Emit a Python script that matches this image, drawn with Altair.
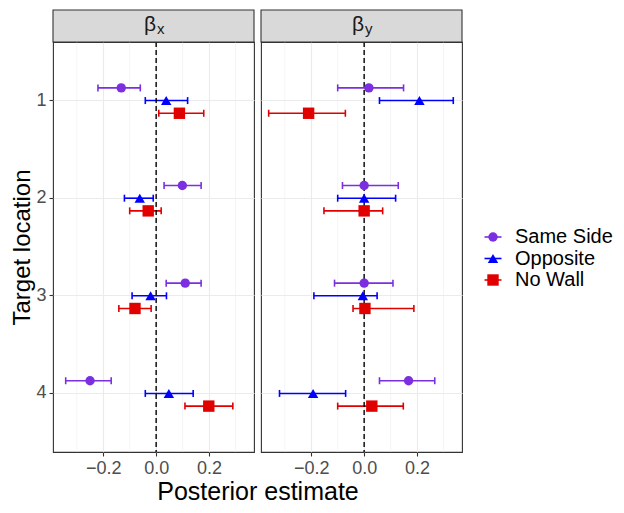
import altair as alt
import pandas as pd

locations = ["1", "2", "3", "4"]
conditions = ["Same Side", "Opposite", "No Wall"]
colors = ["#7B2FE0", "#0000FF", "#E00000"]
shapes = ["circle", "triangle-up", "square"]
panel_names = ["beta_x", "beta_y"]
panel_symbol = ["β", "β"]
panel_sub = ["x", "y"]

# beta_x estimates and intervals
bx_est = {"Same Side": [-0.132, 0.099, 0.110, -0.250],
          "Opposite": [0.038, -0.062, -0.021, 0.048],
          "No Wall": [0.088, -0.030, -0.080, 0.199]}
bx_lo = {"Same Side": [-0.220, 0.030, 0.038, -0.342],
         "Opposite": [-0.041, -0.120, -0.091, -0.041],
         "No Wall": [0.010, -0.100, -0.141, 0.109]}
bx_hi = {"Same Side": [-0.060, 0.170, 0.170, -0.170],
         "Opposite": [0.119, -0.011, 0.039, 0.140],
         "No Wall": [0.180, 0.019, -0.019, 0.290]}
# beta_y estimates and intervals
by_est = {"Same Side": [0.018, 0.000, 0.000, 0.168],
          "Opposite": [0.209, 0.000, -0.005, -0.193],
          "No Wall": [-0.210, 0.000, 0.003, 0.029]}
by_lo = {"Same Side": [-0.100, -0.082, -0.112, 0.058],
         "Opposite": [0.058, -0.100, -0.190, -0.320],
         "No Wall": [-0.361, -0.152, -0.042, -0.100]}
by_hi = {"Same Side": [0.149, 0.129, 0.109, 0.267],
         "Opposite": [0.337, 0.119, 0.049, -0.070],
         "No Wall": [-0.071, 0.070, 0.188, 0.148]}

major_breaks = [-0.2, 0.0, 0.2]
minor_breaks = [-0.3, -0.1, 0.1, 0.3]
ref_line = [0.0]
x_domain = [-0.39, 0.37]
# dodge slots: empty slots either side keep the three conditions close together
dodge_slots = ["_a", "_b"] + conditions + ["_c", "_d"]

rows = []
for p, est, lo, hi in [("beta_x", bx_est, bx_lo, bx_hi), ("beta_y", by_est, by_lo, by_hi)]:
    for c in conditions:
        for i, loc in enumerate(locations):
            rows.append(dict(panel=p, location=loc, condition=c,
                             est=est[c][i], lo=lo[c][i], hi=hi[c][i]))
df = pd.DataFrame(rows)

W, H, STRIP, GAP = 201, 410, 32, 7
GRID = "#EBEBEB"
DARK = "#333333"

xs = alt.Scale(domain=x_domain, nice=False, zero=False)
ys = alt.Scale(domain=locations, paddingInner=0, paddingOuter=0.1)
yos = alt.Scale(domain=dodge_slots, paddingInner=0, paddingOuter=0.35)
cs = alt.Scale(domain=conditions, range=colors)
ss = alt.Scale(domain=conditions, range=shapes)
sz = alt.Scale(domain=conditions, range=[88, 130, 78])


def panel(idx, first):
    name = panel_names[idx]
    d = df[df.panel == name]
    base = alt.Chart(d)

    xaxis = alt.Axis(values=major_breaks, format=".1f", grid=True, gridColor=GRID,
                     gridWidth=1.1, domain=False, tickSize=4, tickColor=DARK,
                     tickWidth=1.1, labelFontSize=18, labelColor="#4D4D4D",
                     labelPadding=3,
                     title="Posterior estimate" if first else None,
                     titleFontSize=25, titleFontWeight="normal", titleColor="#000000",
                     titlePadding=2, titleX=(2 * W + GAP) / 2)
    if first:
        yaxis = alt.Axis(title="Target location", grid=True, gridColor=GRID, gridWidth=1.1,
                         bandPosition=0.5, domain=False, tickSize=4, tickColor=DARK,
                         tickWidth=1.1, labelFontSize=18, labelColor="#4D4D4D",
                         labelPadding=3, labelAngle=0,
                         titleFontSize=24, titleFontWeight="normal", titleColor="#000000",
                         titlePadding=1)
    else:
        yaxis = alt.Axis(title=None, grid=True, gridColor=GRID, gridWidth=1.1,
                         bandPosition=0.5, domain=False, ticks=False, labels=False,
                         minExtent=0)

    X = lambda f: alt.X(f, scale=xs, axis=xaxis)
    Y = alt.Y("location:N", scale=ys, axis=yaxis)
    YO = alt.YOffset("condition:N", scale=yos)
    C = alt.Color("condition:N", scale=cs, legend=None)

    minor = alt.Chart(pd.DataFrame({"v": minor_breaks})).mark_rule(
        color=GRID, strokeWidth=0.55).encode(x=X("v:Q"))

    bars = base.mark_rule(strokeWidth=1.6).encode(
        x=X("lo:Q"), x2="hi:Q", y=Y, yOffset=YO, color=C)
    cap_lo = base.mark_tick(thickness=1.6, size=7, opacity=1, orient="vertical").encode(
        x=X("lo:Q"), y=Y, yOffset=YO, color=C)
    cap_hi = base.mark_tick(thickness=1.6, size=7, opacity=1, orient="vertical").encode(
        x=X("hi:Q"), y=Y, yOffset=YO, color=C)
    zero = alt.Chart(pd.DataFrame({"z": ref_line})).mark_rule(
        color="#000000", strokeWidth=1.4, strokeDash=[5, 3]).encode(x=X("z:Q"))

    pts = base.mark_point(filled=True, opacity=1).encode(
        x=X("est:Q"), y=Y, yOffset=YO, color=C,
        shape=alt.Shape("condition:N", scale=ss, legend=None),
        size=alt.Size("condition:N", scale=sz, legend=None),
    )

    sdf = pd.DataFrame({"sym": [panel_symbol[idx]], "sub": [panel_sub[idx]]})
    strip = alt.Chart(sdf).mark_rect(fill="#D9D9D9", stroke=DARK, strokeWidth=1.1).encode(
        x=alt.value(0), x2=alt.value(W), y=alt.value(-STRIP), y2=alt.value(0))
    sym = alt.Chart(sdf).mark_text(fontSize=21, align="center", baseline="alphabetic",
                                   color="#1A1A1A").encode(
        text="sym:N", x=alt.value(97), y=alt.value(-11))
    sub = alt.Chart(sdf).mark_text(fontSize=15, align="left", baseline="alphabetic",
                                   color="#1A1A1A").encode(
        text="sub:N", x=alt.value(104), y=alt.value(-8))

    return alt.layer(minor, bars, cap_lo, cap_hi, zero, pts, strip, sym, sub).properties(
        width=W, height=H)


# legend drawn as its own small chart from the condition list
ldf = pd.DataFrame({"condition": conditions})
ly = alt.Y("condition:N", scale=alt.Scale(type="point", domain=conditions,
                                          range=[195, 238], padding=0), axis=None)
lc = alt.Color("condition:N", scale=cs, legend=None)
leg_line = alt.Chart(ldf).mark_rule(strokeWidth=1.6).encode(
    x=alt.value(15.5), x2=alt.value(32.5), y=ly, color=lc)
leg_pt = alt.Chart(ldf).mark_point(filled=True, opacity=1).encode(
    x=alt.value(24), y=ly, color=lc,
    shape=alt.Shape("condition:N", scale=ss, legend=None),
    size=alt.Size("condition:N", scale=sz, legend=None))
leg_txt = alt.Chart(ldf).mark_text(fontSize=20, align="left", baseline="middle",
                                   color="#000000").encode(
    x=alt.value(46), y=ly, text="condition:N")
legend = alt.layer(leg_line, leg_pt, leg_txt).properties(
    width=140, height=H, view=alt.ViewBackground(stroke=None))

chart = alt.hconcat(panel(0, True), panel(1, False), legend, spacing=GAP,
                    bounds="flush").resolve_scale(
    color="shared", shape="shared", size="shared"
).properties(padding={"left": 2, "top": 0, "right": 0, "bottom": 0}).configure(
    font="Liberation Sans").configure_view(stroke=DARK, strokeWidth=1.1)

chart.save("out.html", embed_options={"renderer": "svg", "actions": False})
